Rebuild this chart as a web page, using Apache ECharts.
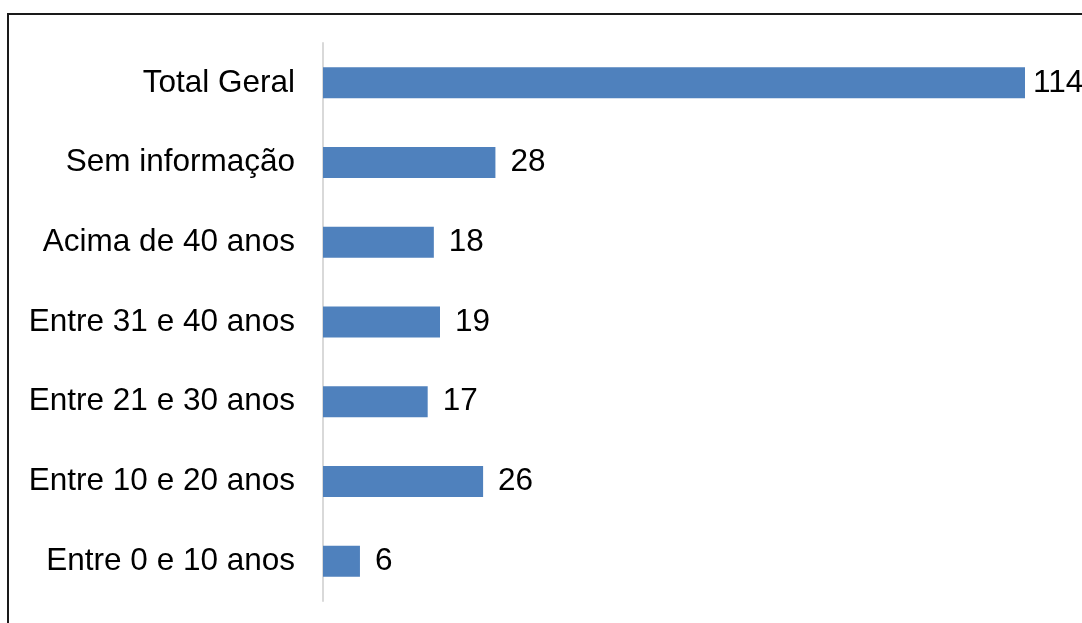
<!DOCTYPE html>
<html>
<head>
<meta charset="utf-8">
<style>
  html, body { margin: 0; padding: 0; background: #fff; }
  #chart { width: 1082px; height: 623px; }
</style>
<script src="https://cdn.jsdelivr.net/npm/echarts@6/dist/echarts.min.js"></script>
</head>
<body>
<div id="chart"></div>
<script>
// Age groups, listed bottom to top as drawn on the category axis
const categories = [
  'Entre 0 e 10 anos',
  'Entre 10 e 20 anos',
  'Entre 21 e 30 anos',
  'Entre 31 e 40 anos',
  'Acima de 40 anos',
  'Sem informação',
  'Total Geral'
];
const counts = [6, 26, 17, 19, 18, 28, 114];

const FONT = 'Liberation Sans, Arial, sans-serif';
const chart = echarts.init(document.getElementById('chart'), null, { renderer: 'canvas' });

// The longest bar keeps its label tucked closer so it stays inside the frame
const maxCount = Math.max(...counts);
const barData = counts.map(v => v === maxCount
  ? { value: v, label: { distance: 8 } }
  : v);

chart.setOption({
  animation: false,
  backgroundColor: '#ffffff',
  textStyle: { fontFamily: FONT },
  graphic: [{
    type: 'rect',
    shape: { x: 8, y: 14, width: 1200, height: 700 },
    style: { fill: 'none', stroke: '#1a1a1a', lineWidth: 2 },
    silent: true
  }],
  grid: { left: 323, top: 43, width: 702, height: 558, containLabel: false },
  xAxis: {
    type: 'value',
    min: 0,
    max: 114,
    show: false
  },
  yAxis: {
    type: 'category',
    data: categories,
    axisLine: { show: true, lineStyle: { color: '#d9d9d9', width: 2 } },
    axisTick: { show: false },
    axisLabel: {
      margin: 28,
      fontSize: 31.5,
      color: '#000000',
      fontFamily: FONT,
      padding: [3, 0, 0, 0]
    }
  },
  series: [{
    type: 'bar',
    data: barData,
    barWidth: 31,
    itemStyle: { color: '#4f81bd' },
    label: {
      show: true,
      position: 'right',
      distance: 15,
      fontSize: 31.5,
      color: '#000000',
      fontFamily: FONT,
      padding: [4, 0, 0, 0]
    }
  }]
});
</script>
</body>
</html>
